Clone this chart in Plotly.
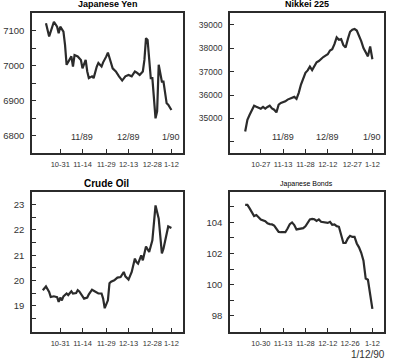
import plotly.graph_objects as go

# ---------------- data ----------------
# Japanese Yen (x = calendar day offset from Oct 31, 1989; year-end holidays removed)
yen_day = [-9, -7, -4, -2, -1, 0, 2, 3, 4, 5, 7, 8, 9, 11, 13, 14, 16, 17, 18, 20, 21, 23, 24, 26, 27,
           29, 30, 33, 35, 37, 39, 41, 43, 45, 47, 48, 50, 52, 53, 54, 55, 57, 58, 60, 61, 62, 64, 65,
           67, 68, 70]
yen_value = [7122, 7084, 7126, 7112, 7093, 7112, 7098, 7060, 7003, 7012, 7027, 6998, 7031, 7027, 7017,
             6993, 7017, 6984, 6965, 6970, 6965, 6998, 7008, 6998, 7010, 7027, 7038, 6993, 6984, 6970,
             6958, 6970, 6974, 6970, 6984, 6981, 6974, 6984, 7017, 7079, 7074, 6965, 6965, 6850, 6870,
             7003, 6955, 6955, 6893, 6889, 6874]
yen_xtick_pos = [0, 14, 29, 43, 58, 70]
yen_xtick_text = ["10-31", "11-14", "11-29", "12-13", "12-28", "1-12"]
yen_ytick_pos = [6800, 6850, 6900, 6950, 7000, 7050, 7100]
yen_ytick_text = ["6800", "", "6900", "", "7000", "", "7100"]

# Nikkei 225 (x = trading day offset from Oct 27, 1989)
nikkei_day = list(range(-7, 51))
nikkei_value = [34441, 34944, 35159, 35350, 35546, 35500, 35473, 35417, 35490, 35417, 35490, 35546,
                35430, 35374, 35258, 35589, 35662, 35700, 35731, 35804, 35850, 35877, 35920, 35834,
                36092, 36449, 36750, 36950, 37050, 37211, 37065, 37237, 37400, 37452, 37555, 37620,
                37680, 37740, 37900, 37955, 38170, 38458, 38355, 38385, 38127, 38028, 38385, 38699,
                38785, 38815, 38750, 38560, 38300, 38000, 37800, 37650, 38071, 37525]
nikkei_xtick_pos = [0, 10, 20, 30, 41, 50]
nikkei_xtick_text = ["10-27", "11-13", "11-28", "12-12", "12-27", "1-12"]
nikkei_ytick_pos = [34000, 35000, 36000, 37000, 38000, 39000]
nikkei_ytick_text = ["", "35000", "36000", "37000", "38000", "39000"]

# Crude Oil (x = calendar day offset from Oct 31, 1989)
oil_day = [-11, -9, -7, -6, -4, -2, -1, 0, 1, 2, 4, 5, 7, 8, 10, 11, 12, 14, 15, 17, 18, 20, 22, 24,
           26, 27, 28, 29, 30, 31, 32, 34, 36, 38, 40, 41, 43, 45, 47, 48, 49, 51, 52, 54, 55, 56, 58,
           59, 60, 62, 63, 64, 65, 67, 68, 70]
oil_value = [19.62, 19.77, 19.55, 19.35, 19.38, 19.35, 19.16, 19.33, 19.22, 19.38, 19.49, 19.43, 19.58,
             19.49, 19.51, 19.62, 19.57, 19.38, 19.29, 19.33, 19.46, 19.64, 19.58, 19.49, 19.49, 19.29,
             18.91, 19.05, 19.22, 19.90, 19.96, 20.01, 20.12, 20.14, 20.34, 20.17, 20.04, 20.34, 20.87,
             20.73, 20.67, 21.00, 20.80, 21.35, 21.26, 21.13, 21.59, 22.25, 22.97, 22.45, 21.72, 21.07,
             21.26, 21.86, 22.14, 22.08]
oil_xtick_pos = [0, 14, 29, 43, 58, 70]
oil_xtick_text = ["10-31", "11-14", "11-29", "12-13", "12-28", "1-12"]
oil_ytick_pos = [18.5, 19, 19.5, 20, 20.5, 21, 21.5, 22, 22.5, 23]
oil_ytick_text = ["", "19", "", "20", "", "21", "", "22", "", "23"]

# Japanese Bonds (x = trading day offset from Oct 30, 1989)
bond_day = [-7, -6, -5, -4, -3, -2, -1, 0, 2, 3, 4, 5, 6, 7, 8, 9, 11, 12, 13, 14, 15, 16, 17, 18, 19,
            20, 21, 22, 23, 24, 25, 26, 27, 28, 30, 31, 32, 33, 34, 35, 36, 37, 38, 39, 40, 41, 42, 43,
            44, 45, 46, 47, 48, 49, 50]
bond_value = [105.12, 105.12, 104.90, 104.68, 104.41, 104.47, 104.32, 104.19, 104.08, 103.94, 103.89,
              103.87, 103.80, 103.61, 103.39, 103.37, 103.37, 103.61, 103.89, 104.00, 103.83, 103.55,
              103.59, 103.61, 103.63, 103.75, 103.97, 104.19, 104.23, 104.20, 104.10, 104.19, 104.04,
              104.00, 103.97, 104.04, 103.85, 103.87, 103.76, 103.72, 103.20, 102.68, 102.68, 102.97,
              103.14, 103.07, 103.07, 102.65, 102.40, 102.05, 101.55, 100.40, 100.32, 99.50, 98.45]
bond_xtick_pos = [0, 10, 20, 30, 40, 50]
bond_xtick_text = ["10-30", "11-13", "11-28", "12-12", "12-26", "1-12"]
bond_ytick_pos = [98, 99, 100, 101, 102, 103, 104, 105]
bond_ytick_text = ["98", "", "100", "", "102", "", "104", ""]

month_labels = ["11/89", "12/89", "1/90"]
yen_month_pos = [14, 43, 70]
nikkei_month_pos = [10, 30, 50]

titles = ["Japanese Yen", "Nikkei 225", "Crude Oil", "Japanese Bonds"]
date_note = "1/12/90"

# ---------------- styling ----------------
W, H = 394, 364
INK = "#2b2b2b"
TXT = "#333333"
FONT = "Liberation Sans, Arial, sans-serif"

def px_dom(a, b, total):
    return [a / total, b / total]

left_x = px_dom(32, 183, W)
right_x = px_dom(230, 384, W)
top_y = [1 - 153 / H, 1 - 13 / H]
bot_y = [1 - 332 / H, 1 - 192 / H]

def xax(domain, anchor, rng, tv, tt):
    return dict(domain=domain, anchor=anchor, range=rng, tickmode="array", tickvals=tv, ticktext=tt,
                showline=True, mirror=True, linecolor=INK, linewidth=1.6, ticks="inside", ticklen=4,
                tickwidth=1, tickcolor=INK, showgrid=False, zeroline=False, tickangle=0,
                tickfont=dict(family=FONT, size=7.5, color=TXT), ticklabelstandoff=3)

def yax(domain, anchor, rng, tv, tt, size=9.5):
    return dict(domain=domain, anchor=anchor, range=rng, tickmode="array", tickvals=tv, ticktext=tt,
                showline=True, mirror=True, linecolor=INK, linewidth=1.6, ticks="inside", ticklen=4,
                tickwidth=1, tickcolor=INK, showgrid=False, zeroline=False,
                tickfont=dict(family=FONT, size=size, color=TXT), ticklabelstandoff=4)

line = dict(color=INK, width=2.2)
fig = go.Figure()
fig.add_trace(go.Scatter(x=yen_day, y=yen_value, mode="lines", line=line, xaxis="x", yaxis="y"))
fig.add_trace(go.Scatter(x=nikkei_day, y=nikkei_value, mode="lines", line=line, xaxis="x2", yaxis="y2"))
fig.add_trace(go.Scatter(x=oil_day, y=oil_value, mode="lines", line=line, xaxis="x3", yaxis="y3"))
fig.add_trace(go.Scatter(x=bond_day, y=bond_value, mode="lines", line=line, xaxis="x4", yaxis="y4"))

lrange = [-17.8, 77.3]
rrange = [-13.8, 55.2]

annotations = []
title_specs = [
    (titles[0], (32 + 183) / 2, 4.5, 9, True),
    (titles[1], (230 + 384) / 2, 4.5, 9, True),
    (titles[2], (31 + 182) / 2, 183, 10, True),
    (titles[3], (230 + 383) / 2, 184, 7, False),
]
for text, xc, yc, sz, bold in title_specs:
    annotations.append(dict(text=f"<b>{text}</b>" if bold else text, x=xc / W, y=1 - yc / H,
                            xref="paper", yref="paper", showarrow=False, xanchor="center",
                            yanchor="middle", font=dict(family=FONT, size=sz, color="#000000")))
for lab, xv in zip(month_labels, yen_month_pos):
    annotations.append(dict(text=lab, x=xv, y=0.115, xref="x", yref="y domain", showarrow=False,
                            xanchor="center", yanchor="middle", font=dict(family=FONT, size=9, color=TXT)))
for lab, xv in zip(month_labels, nikkei_month_pos):
    annotations.append(dict(text=lab, x=xv, y=0.115, xref="x2", yref="y2 domain", showarrow=False,
                            xanchor="center", yanchor="middle", font=dict(family=FONT, size=9, color=TXT)))
annotations.append(dict(text=date_note, x=387 / W, y=1 - 354 / H, xref="paper", yref="paper",
                        showarrow=False, xanchor="right", yanchor="middle",
                        font=dict(family=FONT, size=10, color=TXT)))

fig.update_layout(
    width=W, height=H, margin=dict(l=0, r=0, t=0, b=0),
    paper_bgcolor="white", plot_bgcolor="white", showlegend=False,
    xaxis=xax(left_x, "y", lrange, yen_xtick_pos, yen_xtick_text),
    yaxis=yax(top_y, "x", [6751, 7151], yen_ytick_pos, yen_ytick_text),
    xaxis2=xax(right_x, "y2", rrange, nikkei_xtick_pos, nikkei_xtick_text),
    yaxis2=yax(top_y, "x2", [33525, 39500], nikkei_ytick_pos, nikkei_ytick_text, size=8.5),
    xaxis3=xax(left_x, "y3", lrange, oil_xtick_pos, oil_xtick_text),
    yaxis3=yax(bot_y, "x3", [17.97, 23.5], oil_ytick_pos, oil_ytick_text),
    xaxis4=xax(right_x, "y4", rrange, bond_xtick_pos, bond_xtick_text),
    yaxis4=yax(bot_y, "x4", [96.97, 105.95], bond_ytick_pos, bond_ytick_text),
    annotations=annotations,
)

fig.write_html(
    "out.html",
    config={"displayModeBar": False},
    post_script="document.body.style.margin='0px'; document.body.style.overflow='hidden';",
)
